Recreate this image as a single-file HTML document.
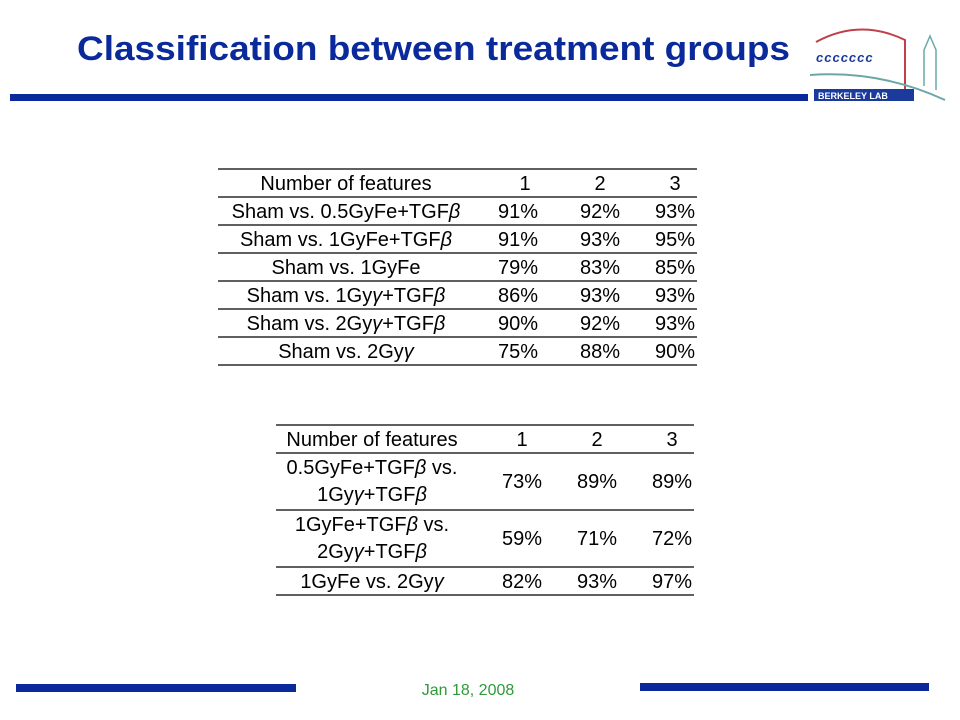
<!DOCTYPE html>
<html><head><meta charset="utf-8"><style>
html,body{margin:0;padding:0;background:#fff}
svg{display:block}
text{font-family:"Liberation Sans",Arial,sans-serif}
</style></head><body>
<svg width="960" height="720" viewBox="0 0 960 720">
<text x="77" y="60" font-size="34" font-weight="bold" fill="#0A2A9C" textLength="713" lengthAdjust="spacingAndGlyphs">Classification between treatment groups</text>
<rect x="10" y="94" width="798" height="7" fill="#0A2A9C"/>
<g>
<path d="M816 42 Q860 18 905 40 L905 90" fill="none" stroke="#c0404a" stroke-width="2"/>
<path d="M810 75 Q880 70 945 100" fill="none" stroke="#6aa8a8" stroke-width="2"/>
<text x="816" y="62" font-size="13" fill="#1a3a9c" font-style="italic" font-weight="bold" letter-spacing="1">ccccccc</text>
<path d="M924 86 L924 50 L930 36 L936 50 L936 90" fill="none" stroke="#6aa8a8" stroke-width="1.5"/>
<rect x="814" y="89" width="100" height="12" fill="#1a3a9c"/>
<text x="818" y="99" font-size="9" fill="#fff" font-weight="bold">BERKELEY LAB</text>
</g>
<g font-size="20" fill="#000">
<g stroke="#000" stroke-width="1.3">
<line x1="218" x2="697" y1="169" y2="169"/><line x1="218" x2="697" y1="197" y2="197"/>
<line x1="218" x2="697" y1="225" y2="225"/><line x1="218" x2="697" y1="253" y2="253"/>
<line x1="218" x2="697" y1="281" y2="281"/><line x1="218" x2="697" y1="309" y2="309"/>
<line x1="218" x2="697" y1="337" y2="337"/><line x1="218" x2="697" y1="365" y2="365"/>
</g>
<g text-anchor="middle">
<text x="346" y="190">Number of features</text><text x="525" y="190">1</text><text x="600" y="190">2</text><text x="675" y="190">3</text>
<text x="346" y="218">Sham vs.  0.5GyFe+TGF<tspan font-style="italic">β</tspan></text><text x="518" y="218">91%</text><text x="600" y="218">92%</text><text x="675" y="218">93%</text>
<text x="346" y="246">Sham vs.  1GyFe+TGF<tspan font-style="italic">β</tspan></text><text x="518" y="246">91%</text><text x="600" y="246">93%</text><text x="675" y="246">95%</text>
<text x="346" y="274">Sham vs.  1GyFe</text><text x="518" y="274">79%</text><text x="600" y="274">83%</text><text x="675" y="274">85%</text>
<text x="346" y="302">Sham vs.  1Gy<tspan font-style="italic">γ</tspan>+TGF<tspan font-style="italic">β</tspan></text><text x="518" y="302">86%</text><text x="600" y="302">93%</text><text x="675" y="302">93%</text>
<text x="346" y="330">Sham vs.  2Gy<tspan font-style="italic">γ</tspan>+TGF<tspan font-style="italic">β</tspan></text><text x="518" y="330">90%</text><text x="600" y="330">92%</text><text x="675" y="330">93%</text>
<text x="346" y="358">Sham vs.  2Gy<tspan font-style="italic">γ</tspan></text><text x="518" y="358">75%</text><text x="600" y="358">88%</text><text x="675" y="358">90%</text>
</g></g>
<g font-size="20" fill="#000">
<g stroke="#000" stroke-width="1.3">
<line x1="276" x2="694" y1="425" y2="425"/><line x1="276" x2="694" y1="453" y2="453"/>
<line x1="276" x2="694" y1="510" y2="510"/><line x1="276" x2="694" y1="567" y2="567"/>
<line x1="276" x2="694" y1="595" y2="595"/>
</g>
<g text-anchor="middle">
<text x="372" y="446">Number of features</text><text x="522" y="446">1</text><text x="597" y="446">2</text><text x="672" y="446">3</text>
<text x="372" y="474">0.5GyFe+TGF<tspan font-style="italic">β</tspan> vs.</text><text x="372" y="501">1Gy<tspan font-style="italic">γ</tspan>+TGF<tspan font-style="italic">β</tspan></text>
<text x="522" y="488">73%</text><text x="597" y="488">89%</text><text x="672" y="488">89%</text>
<text x="372" y="531">1GyFe+TGF<tspan font-style="italic">β</tspan> vs.</text><text x="372" y="558">2Gy<tspan font-style="italic">γ</tspan>+TGF<tspan font-style="italic">β</tspan></text>
<text x="522" y="545">59%</text><text x="597" y="545">71%</text><text x="672" y="545">72%</text>
<text x="372" y="588">1GyFe vs.  2Gy<tspan font-style="italic">γ</tspan></text><text x="522" y="588">82%</text><text x="597" y="588">93%</text><text x="672" y="588">97%</text>
</g></g>
<rect x="16" y="684" width="280" height="8" fill="#0A2A9C"/>
<rect x="640" y="683" width="289" height="8" fill="#0A2A9C"/>
<text x="468" y="695" font-size="16" fill="#2E9A3A" text-anchor="middle">Jan 18,  2008</text>
</svg>
</body></html>
